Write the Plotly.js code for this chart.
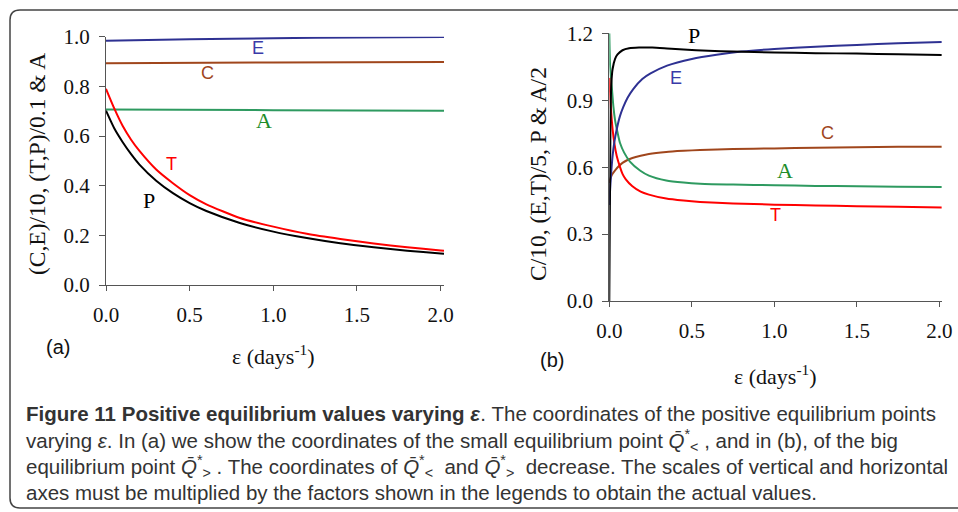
<!DOCTYPE html>
<html>
<head>
<meta charset="utf-8">
<script src="https://cdn.plot.ly/plotly-3.0.1.min.js"></script>
<style>html,body{margin:0;padding:0;background:#fff;}#chart{width:958px;height:512px;}</style>
</head>
<body>
<div id="chart"></div>
<script>
// ---------- DATA: panel (a), small equilibrium ----------
const aE_x = [0, 0.5, 1.0, 1.5, 2.02];
const aE_y = [0.984, 0.990, 0.994, 0.997, 0.999];
const aC_x = [0, 1.0, 2.02];
const aC_y = [0.893, 0.896, 0.898];
const aA_x = [0, 1.0, 2.02];
const aA_y = [0.707, 0.704, 0.702];
const aT_x = [0, 0.05, 0.1, 0.15, 0.2, 0.3, 0.4, 0.5, 0.6, 0.8, 1.0, 1.2, 1.4, 1.6, 1.8, 2.0, 2.02];
const aT_y = [0.79, 0.71, 0.64, 0.585, 0.54, 0.465, 0.41, 0.362, 0.325, 0.27, 0.235, 0.206, 0.185, 0.167, 0.152, 0.139, 0.138];
const aP_x = [0, 0.05, 0.1, 0.15, 0.2, 0.3, 0.4, 0.5, 0.6, 0.8, 1.0, 1.2, 1.4, 1.6, 1.8, 2.0, 2.02];
const aP_y = [0.702, 0.63, 0.575, 0.527, 0.485, 0.42, 0.37, 0.33, 0.298, 0.25, 0.215, 0.189, 0.168, 0.152, 0.138, 0.127, 0.126];

// ---------- DATA: panel (b), big equilibrium ----------
const bP_x = [0, 0.005, 0.008, 0.012, 0.02, 0.035, 0.05, 0.08, 0.12, 0.18, 0.26, 0.35, 0.45, 0.6, 0.75, 1.0, 1.25, 1.5, 1.75, 2.015];
const bP_y = [0, 0.6, 0.85, 0.97, 1.04, 1.085, 1.105, 1.124, 1.133, 1.136, 1.136, 1.132, 1.127, 1.122, 1.118, 1.114, 1.111, 1.109, 1.106, 1.103];
const bE_x = [0, 0.005, 0.01, 0.02, 0.03, 0.045, 0.065, 0.085, 0.11, 0.145, 0.2, 0.25, 0.35, 0.5, 0.65, 0.8, 1.0, 1.25, 1.5, 1.75, 2.015];
const bE_y = [0.43, 0.5, 0.56, 0.65, 0.71, 0.77, 0.83, 0.87, 0.91, 0.95, 0.995, 1.02, 1.055, 1.085, 1.104, 1.118, 1.13, 1.14, 1.148, 1.155, 1.161];
const bC_x = [0, 0.005, 0.01, 0.02, 0.04, 0.06, 0.08, 0.11, 0.14, 0.19, 0.24, 0.345, 0.45, 0.55, 0.75, 1.0, 1.25, 1.5, 1.75, 2.015];
const bC_y = [0.53, 0.545, 0.555, 0.57, 0.59, 0.606, 0.619, 0.632, 0.641, 0.651, 0.659, 0.668, 0.673, 0.677, 0.681, 0.684, 0.687, 0.689, 0.691, 0.692];
const bA_x = [0, 0.005, 0.015, 0.025, 0.035, 0.05, 0.065, 0.09, 0.125, 0.186, 0.24, 0.345, 0.45, 0.55, 0.75, 1.0, 1.25, 1.5, 1.75, 2.015];
const bA_y = [1.2, 1.05, 0.96, 0.87, 0.81, 0.755, 0.708, 0.665, 0.625, 0.585, 0.562, 0.54, 0.531, 0.526, 0.522, 0.519, 0.516, 0.514, 0.512, 0.511];
const bT_x = [0, 0.005, 0.01, 0.02, 0.03, 0.045, 0.065, 0.08, 0.1, 0.14, 0.19, 0.24, 0.345, 0.45, 0.55, 0.75, 1.0, 1.25, 1.5, 1.75, 2.015];
const bT_y = [1.0, 0.93, 0.86, 0.77, 0.71, 0.65, 0.6, 0.57, 0.545, 0.514, 0.49, 0.477, 0.459, 0.45, 0.444, 0.437, 0.432, 0.428, 0.425, 0.422, 0.419];

// ---------- tick labels ----------
const xTicks = [0, 0.5, 1.0, 1.5, 2.0];
const xTickText = ['0.0', '0.5', '1.0', '1.5', '2.0'];
const aYTicks = [0, 0.2, 0.4, 0.6, 0.8, 1.0];
const aYTickText = ['0.0', '0.2', '0.4', '0.6', '0.8', '1.0'];
const bYTicks = [0, 0.3, 0.6, 0.9, 1.2];
const bYTickText = ['0.0', '0.3', '0.6', '0.9', '1.2'];

// ---------- texts ----------
const aYTitle = '(C,E)/10, (T,P)/0.1 &amp; A';
const bYTitle = 'C/10, (E,T)/5, P &amp; A/2';
const xTitle = 'ε (days<sup>-1</sup>)';
const captionLines = [
  '<b>Figure 11 Positive equilibrium values varying <i>ε</i></b>. The coordinates of the positive equilibrium points',
  'varying <i>ε</i>. In (a) we show the coordinates of the small equilibrium point <i>Q̄</i><sup>*</sup><sub>&lt;</sub> , and in (b), of the big',
  'equilibrium point <i>Q̄</i><sup>*</sup><sub>&gt;</sub> . The coordinates of <i>Q̄</i><sup>*</sup><sub>&lt;</sub>  and <i>Q̄</i><sup>*</sup><sub>&gt;</sub>  decrease. The scales of vertical and horizontal',
  'axes must be multiplied by the factors shown in the legends to obtain the actual values.'
];

// ---------- styling ----------
const W = 958, H = 512;
const px = v => v / W;
const py = v => 1 - v / H;
const COL = {E: '#2e3192', C: '#a0461c', A: '#2e9a60', T: '#ff0000', P: '#000000'};
const LBL = {E: '#3a3aa8', C: '#a0461c', A: '#1e8c2a', T: '#ff0000', P: '#000000'};
const serif = 'Liberation Serif, Times New Roman, serif';
const sans = 'Liberation Sans, Arial, sans-serif';

function line(x, y, c, xa, ya) {
  return {x: x, y: y, xaxis: xa, yaxis: ya, type: 'scatter', mode: 'lines',
    line: {color: c, width: 2, shape: 'spline', smoothing: 0.6}, hoverinfo: 'skip', showlegend: false};
}

const traces = [
  line(aE_x, aE_y, COL.E, 'x', 'y'),
  line(aC_x, aC_y, COL.C, 'x', 'y'),
  line(aA_x, aA_y, COL.A, 'x', 'y'),
  line(aT_x, aT_y, COL.T, 'x', 'y'),
  line(aP_x, aP_y, COL.P, 'x', 'y'),
  line(bC_x, bC_y, COL.C, 'x2', 'y2'),
  line(bA_x, bA_y, COL.A, 'x2', 'y2'),
  line(bT_x, bT_y, COL.T, 'x2', 'y2'),
  line(bE_x, bE_y, COL.E, 'x2', 'y2'),
  line(bP_x, bP_y, COL.P, 'x2', 'y2')
];

const axisBase = {
  showgrid: false, zeroline: false, showline: true, linecolor: '#555', linewidth: 1,
  ticks: 'outside', ticklen: 5, tickwidth: 1, tickcolor: '#555',
  tickfont: {family: serif, size: 21, color: '#111'}, fixedrange: true
};

const layout = {
  width: W, height: H,
  margin: {l: 0, r: 0, t: 0, b: 0},
  paper_bgcolor: '#ffffff', plot_bgcolor: 'rgba(0,0,0,0)',
  showlegend: false,
  xaxis: Object.assign({}, axisBase, {domain: [px(106), px(444)], range: [0, 2.02], tickvals: xTicks, ticktext: xTickText, anchor: 'y', ticklabelstandoff: 6}),
  yaxis: Object.assign({}, axisBase, {domain: [py(285), py(36.7)], range: [0, 1.0], tickvals: aYTicks, ticktext: aYTickText, anchor: 'x', ticklen: 6, ticklabelstandoff: 5}),
  xaxis2: Object.assign({}, axisBase, {domain: [px(609.3), px(941.8)], range: [0, 2.015], tickvals: xTicks, ticktext: xTickText, anchor: 'y2', ticklabelstandoff: 6}),
  yaxis2: Object.assign({}, axisBase, {domain: [py(301), py(33.3)], range: [0, 1.2], tickvals: bYTicks, ticktext: bYTickText, anchor: 'x2', ticklen: 6, ticklabelstandoff: 5}),
  shapes: [
    {type: 'path', xref: 'paper', yref: 'paper',
     path: 'M ' + px(10) + ',' + py(498) + ' L ' + px(10) + ',' + py(20) +
           ' Q ' + px(10) + ',' + py(10) + ' ' + px(20) + ',' + py(10) +
           ' L ' + px(990) + ',' + py(10) +
           ' M ' + px(990) + ',' + py(508) + ' L ' + px(20) + ',' + py(508) +
           ' Q ' + px(10) + ',' + py(508) + ' ' + px(10) + ',' + py(498),
     line: {color: '#444', width: 1.5}}
  ],
  annotations: []
};

const ann = layout.annotations;
function lab(text, x, y, xr, yr, color, fam, size) {
  ann.push({text: text, x: x, y: y, xref: xr, yref: yr, showarrow: false,
    xanchor: 'center', yanchor: 'middle', font: {family: fam, size: size, color: color}});
}
// panel (a) curve labels
lab('E', 0.908, 0.954, 'x', 'y', LBL.E, sans, 18);
lab('C', 0.604, 0.854, 'x', 'y', LBL.C, sans, 18);
lab('A', 0.944, 0.664, 'x', 'y', LBL.A, serif, 22);
lab('T', 0.394, 0.487, 'x', 'y', LBL.T, sans, 18);
lab('P', 0.257, 0.342, 'x', 'y', LBL.P, serif, 22);
// panel (b) curve labels
lab('P', 0.513, 1.192, 'x2', 'y2', LBL.P, serif, 22);
lab('E', 0.404, 0.999, 'x2', 'y2', LBL.E, sans, 18);
lab('C', 1.32, 0.753, 'x2', 'y2', LBL.C, sans, 18);
lab('A', 1.065, 0.587, 'x2', 'y2', LBL.A, serif, 22);
lab('T', 1.01, 0.385, 'x2', 'y2', LBL.T, sans, 18);
// panel tags
lab('(a)', px(58), py(347), 'paper', 'paper', '#111', sans, 20);
lab('(b)', px(552), py(360), 'paper', 'paper', '#111', sans, 20);
// axis titles
lab(xTitle, px(273), py(355), 'paper', 'paper', '#111', serif, 22);
lab(xTitle, px(775), py(375), 'paper', 'paper', '#111', serif, 22);
ann.push({text: aYTitle, x: px(37), y: py(164), xref: 'paper', yref: 'paper', showarrow: false,
  textangle: -90, xanchor: 'center', yanchor: 'middle', font: {family: serif, size: 23.5, color: '#111'}});
ann.push({text: bYTitle, x: px(538), y: py(174), xref: 'paper', yref: 'paper', showarrow: false,
  textangle: -90, xanchor: 'center', yanchor: 'middle', font: {family: serif, size: 23.5, color: '#111'}});
// caption
const capY = [413, 440, 466, 492];
captionLines.forEach((t, i) => {
  ann.push({text: t, x: px(24), y: py(capY[i]), xref: 'paper', yref: 'paper', showarrow: false,
    xanchor: 'left', yanchor: 'middle', align: 'left',
    font: {family: 'Liberation Sans, Arial, sans-serif', size: 20.5, color: '#333'}});
});

Plotly.newPlot('chart', traces, layout, {displayModeBar: false, staticPlot: true});
</script>
</body>
</html>
